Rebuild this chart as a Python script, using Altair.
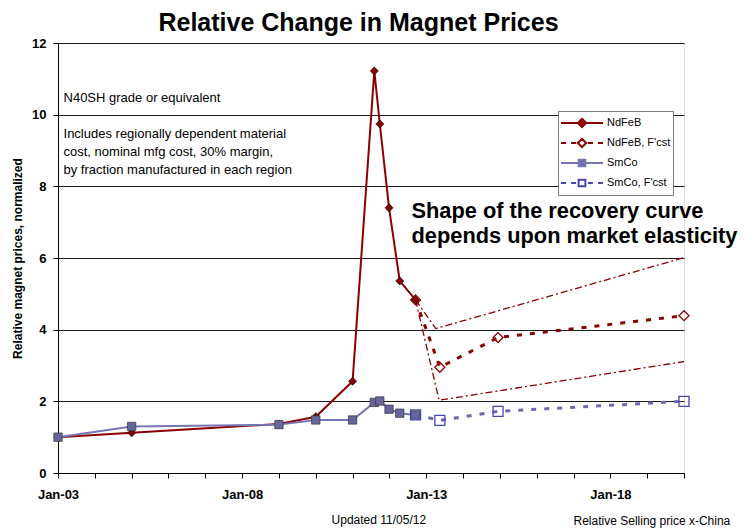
import altair as alt
import pandas as pd

FONT = "Liberation Sans"

# ---- data ----
ndfeb_dates = [2003.0, 2005.0, 2009.0, 2010.0, 2011.0, 2011.59, 2011.74, 2011.99, 2012.28, 2012.71]
ndfeb_vals = [1.0, 1.12, 1.37, 1.57, 2.56, 11.22, 9.74, 7.40, 5.36, 4.83]

smco_dates = [2003.0, 2005.0, 2009.0, 2010.0, 2011.0, 2011.59, 2011.74, 2011.99, 2012.28, 2012.71]
smco_vals = [1.0, 1.30, 1.35, 1.48, 1.48, 1.97, 2.01, 1.78, 1.67, 1.62]

ndfeb_fc_dates = [2012.71, 2013.37, 2014.95, 2020.0]
ndfeb_fc_vals = [4.83, 2.95, 3.78, 4.39]

smco_fc_dates = [2012.71, 2013.37, 2014.95, 2020.0]
smco_fc_vals = [1.62, 1.47, 1.72, 2.0]

upper_dates = [2012.71, 2013.26, 2020.0]
upper_vals = [4.83, 4.03, 6.01]
lower_dates = [2012.71, 2013.35, 2020.0]
lower_vals = [4.83, 2.03, 3.11]

series_names = ["NdFeB", "NdFeB, F'cst", "SmCo", "SmCo, F'cst"]

x_tick_years = [2003, 2008, 2013, 2018]
x_tick_labels = ["Jan-03", "Jan-08", "Jan-13", "Jan-18"]
y_ticks = [0, 2, 4, 6, 8, 10, 12]

title_text = ["Relative Change in Magnet Prices"]
title_date = [2011.16]
title_val = [12.33]

note_texts = ["N40SH grade or equivalent",
              "Includes regionally dependent material",
              "cost, nominal mfg cost, 30% margin,",
              "by fraction manufactured in each region"]
note_dates = [2003.15, 2003.15, 2003.15, 2003.15]
note_vals = [10.34, 9.35, 8.84, 8.34]

big_texts = ["Shape of the recovery curve", "depends upon market elasticity"]
big_dates = [2012.6, 2012.6]
big_vals = [7.12, 6.41]

foot_texts = ["Updated 11/05/12", "Relative Selling price x-China"]
foot_dates = [2010.43, 2017.0]
foot_vals = [-1.41, -1.46]

# ---- colours ----
RED = "#8B0000"
SM_LINE = "#7676B6"
SM_FILL = "#66669C"
SM_FC = "#6A6AAE"
SM_OPEN = "#4646B4"


def df(d, v):
    return pd.DataFrame({"date": d, "value": v})


label_expr = " : ".join(
    f"datum.value == {yr} ? '{lb}'" for yr, lb in zip(x_tick_years, x_tick_labels)
) + " : ''"

x_enc = alt.X(
    "date:Q",
    scale=alt.Scale(domain=[2003, 2020], nice=False, zero=False),
    axis=alt.Axis(
        values=list(range(2003, 2021)), labelExpr=label_expr, title=None,
        grid=False, labelFontSize=13, labelFontWeight="bold", labelFont=FONT,
        labelColor="black", tickColor="black", domainColor="black",
        tickSize=5, labelPadding=10, labelOverlap=False, labelFlush=False,
    ),
)
y_enc = alt.Y(
    "value:Q",
    scale=alt.Scale(domain=[0, 12], nice=False),
    axis=alt.Axis(
        values=y_ticks, title="Relative magnet prices, normalized",
        titleFontSize=12, titleFontWeight="bold", titleFont=FONT, titleColor="black",
        titlePadding=7, labelFontSize=13, labelFontWeight="bold", labelFont=FONT,
        labelColor="black", tickColor="black", domainColor="black", tickSize=5,
        labelPadding=7, grid=True, gridColor="#1a1a1a", gridWidth=1,
    ),
)

base_nd = alt.Chart(df(ndfeb_dates, ndfeb_vals))
base_sm = alt.Chart(df(smco_dates, smco_vals))
base_ndfc = alt.Chart(df(ndfeb_fc_dates, ndfeb_fc_vals))
base_smfc = alt.Chart(df(smco_fc_dates, smco_fc_vals))

upper = alt.Chart(df(upper_dates, upper_vals)).mark_line(
    color=RED, strokeWidth=1.3, strokeDash=[7, 3, 2, 3]
).encode(x=x_enc, y=y_enc)
lower = alt.Chart(df(lower_dates, lower_vals)).mark_line(
    color=RED, strokeWidth=1.3, strokeDash=[7, 3, 2, 3]
).encode(x=x_enc, y=y_enc)

nd_fc_line = base_ndfc.mark_line(color=RED, strokeWidth=3, strokeDash=[5, 8]).encode(x=x_enc, y=y_enc)
nd_fc_pts = base_ndfc.mark_point(
    shape="diamond", filled=False, stroke=RED, strokeWidth=1.3, size=100, opacity=1
).encode(x=x_enc, y=y_enc)

sm_fc_line = base_smfc.mark_line(color=SM_FC, strokeWidth=3, strokeDash=[5, 8]).encode(x=x_enc, y=y_enc)
sm_fc_pts = base_smfc.mark_point(
    shape="square", filled=False, stroke=SM_OPEN, strokeWidth=1.3, size=100, opacity=1
).encode(x=x_enc, y=y_enc)

nd_line = base_nd.mark_line(color=RED, strokeWidth=2).encode(x=x_enc, y=y_enc)
nd_pts = base_nd.mark_point(
    shape="diamond", filled=True, fill=RED, stroke="black", strokeWidth=0.7, size=64, opacity=1
).encode(x=x_enc, y=y_enc)

sm_line = base_sm.mark_line(color=SM_LINE, strokeWidth=2).encode(x=x_enc, y=y_enc)
sm_pts = base_sm.mark_point(
    shape="square", filled=True, fill=SM_FILL, stroke="#333333", strokeWidth=0.7, size=70, opacity=1
).encode(x=x_enc, y=y_enc)

title = alt.Chart(pd.DataFrame({"date": title_date, "value": title_val, "t": title_text})).mark_text(
    align="center", baseline="alphabetic", font=FONT, fontSize=25, fontWeight="bold", color="black"
).encode(x=x_enc, y=y_enc, text="t:N")

notes = alt.Chart(pd.DataFrame({"date": note_dates, "value": note_vals, "t": note_texts})).mark_text(
    align="left", baseline="alphabetic", font=FONT, fontSize=13, color="black"
).encode(x=x_enc, y=y_enc, text="t:N")

big = alt.Chart(pd.DataFrame({"date": big_dates, "value": big_vals, "t": big_texts})).mark_text(
    align="left", baseline="alphabetic", font=FONT, fontSize=21.8, fontWeight="bold", color="black"
).encode(x=x_enc, y=y_enc, text="t:N")

foot = alt.Chart(pd.DataFrame({"date": foot_dates, "value": foot_vals, "t": foot_texts})).mark_text(
    align="left", baseline="alphabetic", font=FONT, fontSize=12, color="black"
).encode(x=x_enc, y=y_enc, text="t:N")

# legend symbols: line (solid or dashed) with marker, as custom paths
diamond = "M0,-0.2L0.2,0L0,0.2L-0.2,0Z"
square = "M-0.16,-0.16H0.16V0.16H-0.16Z"
solid = "M-1,0H1"
dashed = "M-1,0H-0.76M-0.52,0H-0.28M0.28,0H0.52M0.76,0H1"
legend_shapes = [solid + diamond, dashed + diamond, solid + square, dashed + square]
legend_strokes = [RED, RED, SM_LINE, SM_OPEN]
legend_fills = [RED, "white", SM_FILL, "white"]

legend_layer = alt.Chart(pd.DataFrame({"series": series_names})).mark_point(opacity=0).encode(
    shape=alt.Shape(
        "series:N",
        scale=alt.Scale(domain=series_names, range=legend_shapes),
        legend=alt.Legend(
            orient="none", legendX=500, legendY=68, title=None,
            fillColor="white", strokeColor="#7f7f7f", padding=2,
            symbolSize=1764, symbolStrokeWidth=2, symbolOpacity=1,
            clipHeight=20, rowPadding=0, labelFont=FONT, labelFontSize=11,
            labelColor="black", labelOffset=3,
        ),
    ),
    stroke=alt.Stroke("series:N", scale=alt.Scale(domain=series_names, range=legend_strokes)),
    fill=alt.Fill("series:N", scale=alt.Scale(domain=series_names, range=legend_fills)),
)

chart = alt.layer(
    upper, lower, nd_fc_line, sm_fc_line, nd_line, nd_pts, sm_line, sm_pts,
    nd_fc_pts, sm_fc_pts, title, notes, big, foot, legend_layer,
).properties(
    width=626,
    height=430,
    autosize=alt.AutoSizeParams(type="none"),
    padding={"left": 50, "top": 35, "right": 56, "bottom": 58},
).configure_view(
    fill="#DDDDDD", stroke="#808080", strokeWidth=1
).configure(background="white")

chart.save("out.html", embed_options={"renderer": "svg", "actions": False})
